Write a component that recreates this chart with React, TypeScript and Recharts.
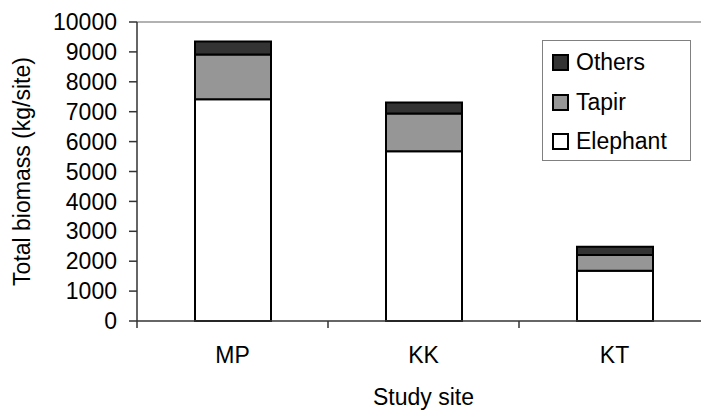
import React from 'react';
import { BarChart, Bar, XAxis, YAxis, Legend, ReferenceLine } from 'recharts';

const sites = ['MP', 'KK', 'KT'];
const elephant = [7420, 5680, 1680];
const tapir = [1490, 1260, 525];
const others = [435, 370, 275];
const yTicks = [0, 1000, 2000, 3000, 4000, 5000, 6000, 7000, 8000, 9000, 10000];
const xTicks = [0, 0.5, 1, 1.5, 2, 2.5, 3];

const seriesDefs = [
  { key: 'others', name: 'Others', color: '#333333' },
  { key: 'tapir', name: 'Tapir', color: '#969696' },
  { key: 'elephant', name: 'Elephant', color: '#ffffff' },
];

const data = sites.map((s, i) => ({
  site: s,
  pos: i + 0.5,
  elephant: elephant[i],
  tapir: tapir[i],
  others: others[i],
}));

const FONT = '"Liberation Sans", Arial, sans-serif';

const XTick = (props: any) => {
  const { x, y, payload } = props;
  const v = payload.value;
  if (Number.isInteger(v)) {
    return <line x1={x} x2={x} y1={y} y2={y + 7} stroke="#333" strokeWidth={1.5} />;
  }
  const idx = Math.floor(v);
  return (
    <text x={x} y={y + 42} textAnchor="middle" fontSize={23} fill="#000" fontFamily={FONT}>
      {sites[idx]}
    </text>
  );
};

const YLabel = (props: any) => {
  const vb = props.viewBox || { x: 0, y: 22, width: 137, height: 299 };
  const cx = vb.x + 30;
  const cy = vb.y + vb.height / 2;
  return (
    <text
      x={cx}
      y={cy}
      transform={`rotate(-90 ${cx} ${cy})`}
      textAnchor="middle"
      fontSize={23}
      fill="#000"
      fontFamily={FONT}
    >
      Total biomass (kg/site)
    </text>
  );
};

const LegendBox = () => (
  <div
    style={{
      width: 149,
      height: 121,
      boxSizing: 'border-box',
      border: '1px solid #808080',
      background: '#fff',
      fontFamily: FONT,
      fontSize: 23,
      color: '#000',
      position: 'relative',
    }}
  >
    {seriesDefs.map((s, i) => (
      <div
        key={s.key}
        style={{
          position: 'absolute',
          left: 9,
          top: 13 + i * 39.5,
          height: 17,
          display: 'flex',
          alignItems: 'center',
          whiteSpace: 'nowrap',
        }}
      >
        <span
          style={{
            display: 'inline-block',
            width: 17,
            height: 17,
            boxSizing: 'border-box',
            border: '2px solid #000',
            background: s.color,
            marginRight: 7,
          }}
        />
        <span style={{ lineHeight: '17px' }}>{s.name}</span>
      </div>
    ))}
  </div>
);

export default function App() {
  return (
    <div
      style={{
        position: 'absolute',
        left: 0,
        top: 0,
        width: 701,
        height: 413,
        overflow: 'hidden',
        background: '#fff',
      }}
    >
      <BarChart
        width={720}
        height={413}
        data={data}
        margin={{ top: 22, right: 10, bottom: 0, left: 0 }}
        style={{ fontFamily: FONT }}
      >
        <XAxis
          dataKey="pos"
          type="number"
          domain={[0, 3]}
          ticks={xTicks}
          interval={0}
          tick={<XTick />}
          tickLine={false}
          tickSize={0}
          tickMargin={0}
          height={92}
          stroke="#333"
          strokeWidth={1.5}
          label={{ value: 'Study site', position: 'insideBottom', offset: 8, fontSize: 23, fill: '#000' }}
        />
        <YAxis
          type="number"
          domain={[0, 10000]}
          ticks={yTicks}
          interval={0}
          width={137}
          tickSize={8}
          tickMargin={12}
          stroke="#333"
          strokeWidth={1.5}
          tick={{ fontSize: 23, fill: '#000' }}
          label={<YLabel />}
        />
        <ReferenceLine y={10000} stroke="#999" strokeWidth={1.5} />
        <Legend
          layout="horizontal"
          verticalAlign="middle"
          align="center"
          content={<LegendBox />}
          wrapperStyle={{ position: 'absolute', left: 542, top: 40, width: 149, height: 121 }}
        />
        <Bar dataKey="elephant" name="Elephant" stackId="a" fill="#ffffff" stroke="#000" strokeWidth={2} barSize={76} isAnimationActive={false} />
        <Bar dataKey="tapir" name="Tapir" stackId="a" fill="#969696" stroke="#000" strokeWidth={2} barSize={76} isAnimationActive={false} />
        <Bar dataKey="others" name="Others" stackId="a" fill="#333333" stroke="#000" strokeWidth={2} barSize={76} isAnimationActive={false} />
      </BarChart>
    </div>
  );
}
